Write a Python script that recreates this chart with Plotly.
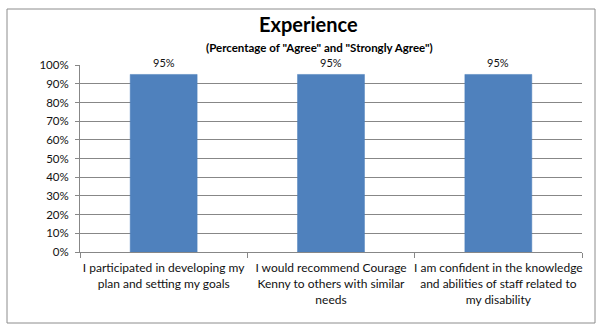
import plotly.graph_objects as go

# Survey statements and share of respondents who agreed / strongly agreed
categories = [
    "I participated in developing my<br>plan and setting my goals",
    "I would recommend Courage<br>Kenny to others with similar<br>needs",
    "I am confident in the knowledge<br>and abilities of staff related to<br>my disability",
]
agree_share = [0.95, 0.95, 0.95]
value_labels = ["95%", "95%", "95%"]

FONT = "Lato, Open Sans, sans-serif"
BAR_BLUE = "#4F81BD"
GRID = "#878787"
TEXT = "#111"

fig = go.Figure(
    go.Bar(
        x=categories,
        y=agree_share,
        width=0.4,
        marker=dict(color=BAR_BLUE, line=dict(color="#4A7EBB", width=0.5)),
        hoverinfo="skip",
    )
)

# Value labels above each bar
for cat, val, lab in zip(categories, agree_share, value_labels):
    fig.add_annotation(
        x=cat, y=val, text=lab, showarrow=False,
        xref="x", yref="y", yanchor="bottom", yshift=3,
        font=dict(family=FONT, size=11, color=TEXT),
    )

# Title and subtitle
fig.add_annotation(
    x=(308 - 80) / 502, y=(252 - 24) / 187, xref="paper", yref="paper",
    text="<b>Experience</b>", showarrow=False, xanchor="center", yanchor="middle",
    font=dict(family=FONT, size=20, color="#000"),
)
fig.add_annotation(
    x=(319 - 80) / 502, y=(252 - 47) / 187, xref="paper", yref="paper",
    text='<b>(Percentage of "Agree" and "Strongly Agree")</b>', showarrow=False,
    xanchor="center", yanchor="middle",
    font=dict(family=FONT, size=11.5, color="#000"),
)

# Chart frame
fig.add_shape(
    type="rect", xref="paper", yref="paper",
    x0=(7 - 80) / 502, x1=(595 - 80) / 502,
    y0=(252 - 323) / 187, y1=(252 - 9) / 187,
    line=dict(color="#8C8C8C", width=1), fillcolor="rgba(0,0,0,0)", layer="below",
)

fig.update_layout(
    width=600, height=327,
    margin=dict(l=80, r=18, t=65, b=75, autoexpand=False),
    paper_bgcolor="white", plot_bgcolor="white",
    showlegend=False,
    font=dict(family=FONT, color=TEXT),
    bargap=0.6,
)
fig.update_xaxes(
    type="category",
    showline=True, linecolor=GRID, linewidth=1,
    ticks="outside", ticklen=5, tickcolor=GRID, tickson="boundaries",
    showgrid=False, tickangle=0, automargin=False,
    ticklabelstandoff=5,
    tickfont=dict(family=FONT, size=12, color=TEXT),
    fixedrange=True,
)
fig.update_yaxes(
    range=[0, 1.0005], dtick=0.1, tickformat=".0%",
    showline=True, linecolor=GRID, linewidth=1,
    ticks="outside", ticklen=4, tickcolor=GRID,
    showgrid=True, gridcolor=GRID, gridwidth=1,
    zeroline=False, automargin=False,
    ticklabelstandoff=4,
    tickfont=dict(family=FONT, size=11.5, color=TEXT),
    fixedrange=True,
)

fig.write_html("out.html", config={"displayModeBar": False})
